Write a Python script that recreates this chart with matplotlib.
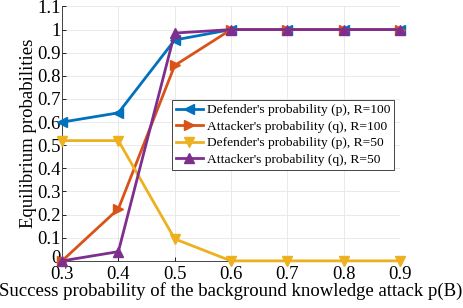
import matplotlib
matplotlib.use("Agg")
import matplotlib.pyplot as plt
import matplotlib.transforms as mtransforms

plt.rcParams["font.family"] = ["Liberation Serif", "DejaVu Serif"]

# success probability of the background knowledge attack
pb = [0.3, 0.4, 0.5, 0.6, 0.7, 0.8, 0.9]

def_p_r100 = [0.60, 0.64, 0.955, 1.0, 1.0, 1.0, 1.0]
att_q_r100 = [0.0, 0.225, 0.845, 1.0, 1.0, 1.0, 1.0]
def_p_r50 = [0.52, 0.52, 0.095, 0.0, 0.0, 0.0, 0.0]
att_q_r50 = [0.0, 0.04, 0.985, 1.0, 1.0, 1.0, 1.0]

labels = ["Defender's probability (p), R=100",
          "Attacker's probability (q), R=100",
          "Defender's probability (p), R=50",
          "Attacker's probability (q), R=50"]

COLORS = ["#0072BD", "#D95319", "#EDB120", "#7E2F8E"]
MARKERS = ["<", ">", "v", "^"]

fig = plt.figure(figsize=(4.63, 3.08), dpi=100)
ax = fig.add_axes([0.134, 0.153, 0.730, 0.826])

series = [def_p_r100, att_q_r100, def_p_r50, att_q_r50]
for i, ys in enumerate(series):
    ax.plot(pb, ys, color=COLORS[i], marker=MARKERS[i], markersize=7,
            linewidth=2, label=labels[i], clip_on=False, zorder=3)

ax.set_xlim(0.3, 0.9)
ax.set_ylim(0, 1.1)
ax.set_xticks(pb)
ax.set_xticklabels(["0.3", "0.4", "0.5", "0.6", "0.7", "0.8", "0.9"])
yt = [i / 10 for i in range(12)]
ax.set_yticks(yt)
ax.set_yticklabels(["0", "0.1", "0.2", "0.3", "0.4", "0.5", "0.6", "0.7",
                    "0.8", "0.9", "1", "1.1"])
ax.tick_params(labelsize=13.5, direction="in", length=3, width=0.6, pad=1)
ax.tick_params(axis="x", pad=4)

# nudge the "0" label up a little so it doesn't collide with "0.3"
zero = ax.get_yticklabels()[0]
zero.set_transform(zero.get_transform() +
                   mtransforms.ScaledTranslation(0, 3 / 72, fig.dpi_scale_trans))

ax.grid(True, color="#e6e6e6", linewidth=0.6)
ax.set_axisbelow(True)
for s in ["top", "right"]:
    ax.spines[s].set_visible(False)
for s in ["left", "bottom"]:
    ax.spines[s].set_linewidth(0.6)
    ax.spines[s].set_color("#262626")

ax.set_xlabel("Success probability of the background knowledge attack p(B)",
              fontsize=13.5, labelpad=-1)
ax.set_ylabel("Equilibrium probabilities", fontsize=13.5, labelpad=0)

leg = ax.legend(loc="upper left", bbox_to_anchor=(0.325, 0.633), fontsize=9.7,
                fancybox=False, framealpha=1, edgecolor="#262626",
                borderpad=0.3, labelspacing=0.3, handlelength=2.0,
                handletextpad=0.3, borderaxespad=0)
leg.get_frame().set_linewidth(0.6)

fig.savefig("out.png", dpi=100)
